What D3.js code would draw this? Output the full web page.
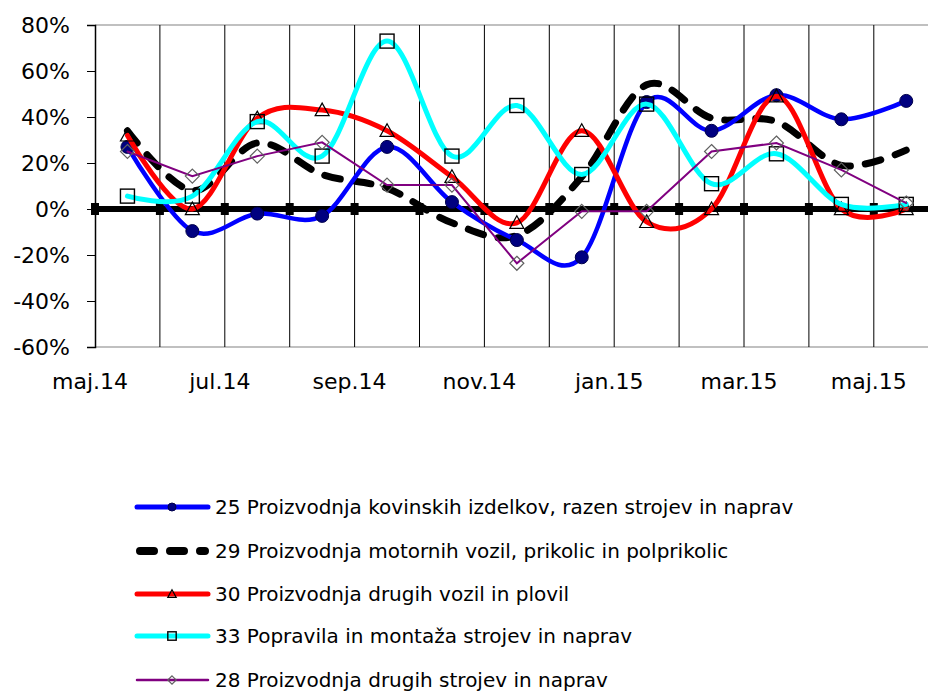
<!DOCTYPE html>
<html>
<head>
<meta charset="utf-8">
<script src="https://cdn.jsdelivr.net/npm/d3@7"></script>
<style>
  body { margin: 0; background: #fff; }
  svg { display: block; font-family: "DejaVu Sans", Verdana, sans-serif; }
</style>
</head>
<body>
<div id="chart"></div>
<script>
// Months and series values (% change)
const months = ["maj.14", "jun.14", "jul.14", "avg.14", "sep.14", "okt.14", "nov.14",
  "dec.14", "jan.15", "feb.15", "mar.15", "apr.15", "maj.15"];
const yTicks = [-60, -40, -20, 0, 20, 40, 60, 80];

const s25 = [27, -9.6, -2, -3, 27, 3, -13.5, -21, 46.5, 34, 49.5, 39, 47];
const s29 = [34, 8, 28.7, 15, 9, -6, -11.5, 14, 54, 39.5, 38, 19, 25.6];
const s30 = [32, 0, 39.5, 43, 34, 14, -6, 34, -5.6, 0, 49, 0, 0];
const s33 = [5.6, 5.6, 38, 23, 73, 23, 45, 15, 45.6, 11, 24, 2, 2];
const s28 = [25, 14.3, 23, 29, 10.4, 10.4, -23.6, -1, -1, 25, 28.7, 17, 2.6];

const series = [
  { name: "29 Proizvodnja motornih vozil, prikolic in polprikolic", values: s29, color: "#000", width: 7, dash: "16 15", marker: "none", smooth: true, legend: 1 },
  { name: "25 Proizvodnja kovinskih izdelkov, razen strojev in naprav", values: s25, color: "#0000ff", width: 4.5, marker: "circle", smooth: true, legend: 0 },
  { name: "30 Proizvodnja drugih vozil in plovil", values: s30, color: "#ff0000", width: 5, marker: "triangle", smooth: true, legend: 2 },
  { name: "33 Popravila in montaža strojev in naprav", values: s33, color: "#00ffff", width: 5, marker: "square", smooth: true, legend: 3 },
  { name: "28 Proizvodnja drugih strojev in naprav", values: s28, color: "#800080", width: 2, marker: "diamond", smooth: false, legend: 4 }
];

const width = 928, height = 693;
const plotLeft = 95, plotTop = 25, plotBottom = 347;

const svg = d3.select("#chart").append("svg")
    .attr("width", width)
    .attr("height", height);

const x = d3.scaleBand().domain(months).range([plotLeft, plotLeft + 13 * 64.9]);
const y = d3.scaleLinear().domain([-60, 80]).range([plotBottom, plotTop]);
const cx = m => x(m) + x.bandwidth() / 2;

// top and bottom border
svg.append("g").selectAll("line")
    .data([80, -60])
    .enter().append("line")
    .attr("x1", plotLeft).attr("x2", width)
    .attr("y1", d => y(d)).attr("y2", d => y(d))
    .attr("stroke", "#c0c0c0").attr("stroke-width", 2);

// vertical grid lines between months
svg.append("g").selectAll("line")
    .data(months.slice(1))
    .enter().append("line")
    .attr("x1", d => x(d)).attr("x2", d => x(d))
    .attr("y1", plotTop).attr("y2", plotBottom)
    .attr("stroke", "#000").attr("stroke-width", 1);

// y axis
const yAxis = svg.append("g")
    .attr("transform", `translate(${plotLeft},0)`)
    .call(d3.axisLeft(y).tickValues(yTicks).tickSize(8).tickPadding(17).tickFormat(d => d + "%"));
yAxis.select(".domain").attr("stroke", "#000").attr("stroke-width", 1.5);
yAxis.selectAll(".tick line").attr("stroke", "#000");
yAxis.selectAll("text").attr("font-size", 22).attr("fill", "#000")
    .attr("font-family", "DejaVu Sans");

// x labels at every other month boundary
svg.append("g").selectAll("text")
    .data(months.filter((d, i) => i % 2 === 0))
    .enter().append("text")
    .attr("x", d => x(d) - 5)
    .attr("y", 389)
    .attr("text-anchor", "middle")
    .attr("font-size", 22)
    .text(d => d);

// zero line with square markers
svg.append("line")
    .attr("x1", plotLeft).attr("x2", width)
    .attr("y1", y(0)).attr("y2", y(0))
    .attr("stroke", "#000").attr("stroke-width", 6);
svg.append("g").selectAll("rect")
    .data(months)
    .enter().append("rect")
    .attr("x", d => x(d) - 4).attr("y", y(0) - 6)
    .attr("width", 8).attr("height", 12)
    .attr("fill", "#000");

function drawMarker(g, type, px, py, scale) {
  const k = scale || 1;
  if (type === "circle") {
    g.append("circle").attr("cx", px).attr("cy", py).attr("r", 6.5 * k)
      .attr("fill", "#000080").attr("stroke", "#00004a").attr("stroke-width", 1);
  } else if (type === "triangle") {
    const s = 7 * k;
    g.append("path")
      .attr("d", `M${px},${py - s}L${px + s},${py + s * 0.8}L${px - s},${py + s * 0.8}Z`)
      .attr("fill", "none").attr("stroke", "#000").attr("stroke-width", 1.2);
  } else if (type === "square") {
    const s = 7 * k;
    g.append("rect").attr("x", px - s).attr("y", py - s)
      .attr("width", 2 * s).attr("height", 2 * s)
      .attr("fill", "none").attr("stroke", "#000").attr("stroke-width", 1.4);
  } else if (type === "diamond") {
    const s = 7 * k;
    g.append("path")
      .attr("d", `M${px},${py - s}L${px + s},${py}L${px},${py + s}L${px - s},${py}Z`)
      .attr("fill", "none").attr("stroke", "#606060").attr("stroke-width", 1.2);
  }
}

series.forEach(s => {
  const line = d3.line()
      .x((d, i) => cx(months[i]))
      .y(d => y(d))
      .curve(s.smooth ? d3.curveCardinal.tension(0) : d3.curveLinear);
  const g = svg.append("g");
  g.append("path")
      .datum(s.values)
      .attr("d", line)
      .attr("fill", "none")
      .attr("stroke", s.color)
      .attr("stroke-width", s.width)
      .attr("stroke-linecap", "round")
      .attr("stroke-dasharray", s.dash || null);
  s.values.forEach((v, i) => drawMarker(g, s.marker, cx(months[i]), y(v)));
});

// legend
const legendRows = [507, 551, 594, 636, 680];
const legend = svg.append("g");
series.slice().sort((a, b) => a.legend - b.legend).forEach((s, i) => {
  const ly = legendRows[i];
  if (s.dash) {
    legend.append("line")
      .attr("x1", 140).attr("x2", 205).attr("y1", ly).attr("y2", ly)
      .attr("stroke", s.color).attr("stroke-width", 8)
      .attr("stroke-linecap", "round").attr("stroke-dasharray", "14 16");
  } else {
    legend.append("line")
      .attr("x1", 137).attr("x2", 208).attr("y1", ly).attr("y2", ly)
      .attr("stroke", s.color).attr("stroke-width", s.width === 2 ? 2.5 : 5)
      .attr("stroke-linecap", "round");
  }
  if (s.marker === "circle") {
    legend.append("circle").attr("cx", 172).attr("cy", ly).attr("r", 4)
      .attr("fill", "#000080").attr("stroke", "#00004a");
  } else {
    drawMarker(legend, s.marker, 172, ly, 0.6);
  }
  legend.append("text")
    .attr("x", 215).attr("y", ly + 7)
    .attr("font-size", 20)
    .text(s.name);
});
</script>
</body>
</html>
